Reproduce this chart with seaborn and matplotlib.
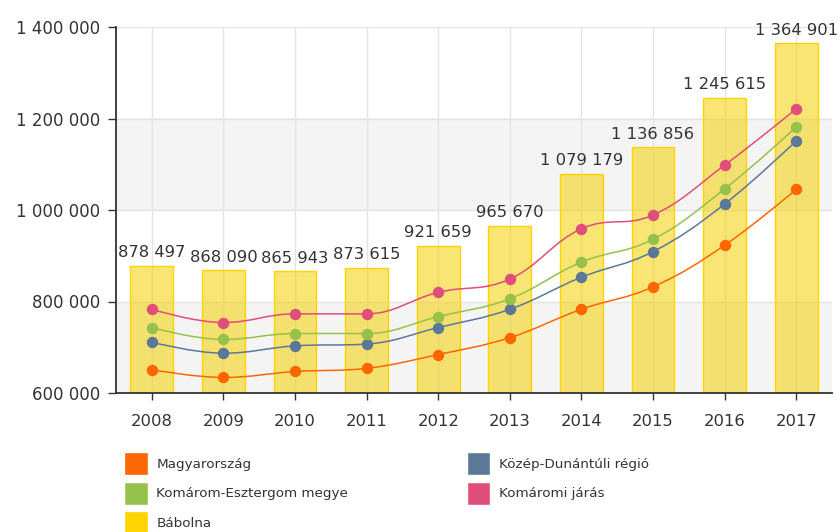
import matplotlib
matplotlib.use("Agg")
import matplotlib.pyplot as plt
from matplotlib.path import Path
from matplotlib.patches import PathPatch, Patch
from matplotlib.ticker import FuncFormatter
import numpy as np
import pandas as pd
import seaborn as sns

years = ["2008", "2009", "2010", "2011", "2012", "2013", "2014", "2015", "2016", "2017"]
babolna = [878497, 868090, 865943, 873615, 921659, 965670, 1079179, 1136856, 1245615, 1364901]
magyarorszag = [651000, 634000, 647000, 654000, 684000, 721000, 783000, 832000, 923000, 1045000]
kozep_dunantul = [711000, 687000, 703000, 707000, 743000, 783000, 853000, 909000, 1013000, 1151000]
komarom_esztergom = [743000, 717000, 730000, 730000, 767000, 806000, 886000, 936000, 1046000, 1181000]
komaromi_jaras = [783000, 754000, 773000, 773000, 820000, 849000, 959000, 989000, 1098000, 1221000]

ORANGE = "#FF6600"
SLATE = "#5C7899"
GREEN = "#96C14A"
PINK = "#E04E7A"
YELLOW = "#F5D000"
TEXT = "#333333"

sns.set_theme(style="white")
plt.rcParams["font.family"] = ["DejaVu Sans"]


def spline(xs, ys):
    # highcharts-like spline: bezier control points, clamped to avoid overshoot
    n = len(xs)
    lc, rc = [None] * n, [None] * n
    for i in range(1, n - 1):
        px, py, x, y, nx, ny = xs[i - 1], ys[i - 1], xs[i], ys[i], xs[i + 1], ys[i + 1]
        lcx, lcy = (1.5 * x + px) / 2.5, (1.5 * y + py) / 2.5
        rcx, rcy = (1.5 * x + nx) / 2.5, (1.5 * y + ny) / 2.5
        corr = (rcy - lcy) * (rcx - x) / (rcx - lcx) + y - rcy
        lcy += corr
        rcy += corr
        if lcy > py and lcy > y:
            lcy = max(py, y); rcy = 2 * y - lcy
        elif lcy < py and lcy < y:
            lcy = min(py, y); rcy = 2 * y - lcy
        if rcy > ny and rcy > y:
            rcy = max(ny, y); lcy = 2 * y - rcy
        elif rcy < ny and rcy < y:
            rcy = min(ny, y); lcy = 2 * y - rcy
        lc[i], rc[i] = (lcx, lcy), (rcx, rcy)
    rc[0] = (xs[0], ys[0])
    lc[-1] = (xs[-1], ys[-1])
    verts, codes = [(xs[0], ys[0])], [Path.MOVETO]
    for i in range(1, n):
        verts += [rc[i - 1], lc[i], (xs[i], ys[i])]
        codes += [Path.CURVE4] * 3
    return Path(verts, codes)


fig = plt.figure(figsize=(8.4, 5.32), dpi=100)
ax = fig.add_axes([116 / 840, 1 - 393 / 532, 716 / 840, 366 / 532])

df = pd.DataFrame({"year": years, "value": babolna})
sns.barplot(data=df, x="year", y="value", color=YELLOW, saturation=1, width=0.6, ax=ax, zorder=2)
for bar in ax.patches:
    bar.set_facecolor((*matplotlib.colors.to_rgb(YELLOW), 0.55))
    bar.set_edgecolor("#FFD400")
    bar.set_linewidth(1.0)

for i, v in enumerate(babolna):
    ax.annotate(f"{v:,}".replace(",", " "), (i, v), xytext=(0, 4), textcoords="offset points",
                ha="center", va="bottom", fontsize=11.8, color=TEXT, zorder=6)

x = np.arange(len(years))
for vals, col in [(magyarorszag, ORANGE), (kozep_dunantul, SLATE),
                  (komarom_esztergom, GREEN), (komaromi_jaras, PINK)]:
    ax.add_patch(PathPatch(spline(list(x), vals), fill=False, edgecolor=col, lw=1.1, zorder=4))
    ax.plot(x, vals, ls="none", marker="o", ms=7.2, color=col, mec=col, zorder=5)

ax.set_xlim(-0.5, len(years) - 0.5)
ax.set_ylim(600000, 1400000)
ax.set_yticks(range(600000, 1400001, 200000))
ax.yaxis.set_major_formatter(FuncFormatter(lambda v, _: f"{v:,.0f}".replace(",", " ")))
for lo in (600000, 1000000):
    ax.axhspan(lo, lo + 200000, color="#F4F4F4", zorder=0, lw=0)
ax.grid(True, color="#E4E4E4", lw=1.0, zorder=1)
ax.set_axisbelow(True)
ax.set_xlabel("")
ax.set_ylabel("")

for s in ("top", "right"):
    ax.spines[s].set_visible(False)
for s in ("left", "bottom"):
    ax.spines[s].set_color("#333333")
    ax.spines[s].set_linewidth(1.3)
    ax.spines[s].set_zorder(7)
ax.tick_params(axis="y", left=True, length=5.5, width=1, color="#333333", pad=6,
               labelsize=12, labelcolor=TEXT)
ax.tick_params(axis="x", bottom=True, length=5, width=1, color="#333333", pad=10,
               labelsize=11.8, labelcolor=TEXT)

handles = [Patch(facecolor=ORANGE, label="Magyarország"),
           Patch(facecolor=GREEN, label="Komárom-Esztergom megye"),
           Patch(facecolor="#FFD400", label="Bábolna"),
           Patch(facecolor=SLATE, label="Közép-Dunántúli régió"),
           Patch(facecolor=PINK, label="Komáromi járás")]
fig.legend(handles=handles, ncol=2, loc="upper left", bbox_to_anchor=(124 / 840, 1 - 452 / 532),
           frameon=False, fontsize=9.7, handlelength=1.75, handleheight=2.3, handletextpad=0.65,
           labelspacing=0.45, columnspacing=8.8, labelcolor=TEXT, borderpad=0, borderaxespad=0)

fig.savefig("out.png", dpi=100, facecolor="white")
